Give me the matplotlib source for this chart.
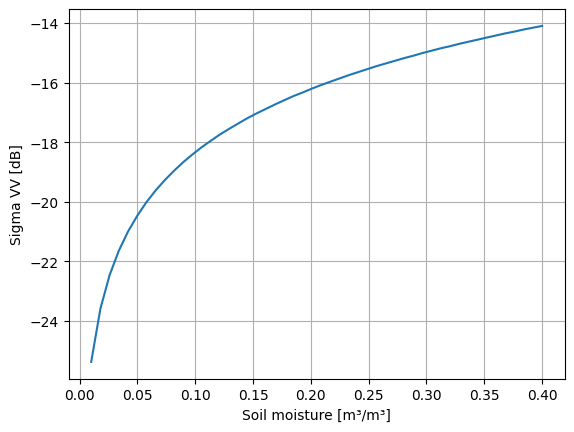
import matplotlib
matplotlib.use('Agg')
from matplotlib import pyplot as plt

# Soil moisture [m3/m3], 50 samples from 0.01 to 0.40
soil_moisture = [
    0.0100, 0.0180, 0.0259, 0.0339, 0.0418, 0.0498, 0.0578, 0.0657, 0.0737, 0.0816,
    0.0896, 0.0976, 0.1055, 0.1135, 0.1214, 0.1294, 0.1373, 0.1453, 0.1533, 0.1612,
    0.1692, 0.1771, 0.1851, 0.1931, 0.2010, 0.2090, 0.2169, 0.2249, 0.2329, 0.2408,
    0.2488, 0.2567, 0.2647, 0.2727, 0.2806, 0.2886, 0.2965, 0.3045, 0.3124, 0.3204,
    0.3284, 0.3363, 0.3443, 0.3522, 0.3602, 0.3682, 0.3761, 0.3841, 0.3920, 0.4000,
]
# Sigma VV [dB]
sigma_vv = [
    -25.37, -23.58, -22.46, -21.64, -21.00, -20.47, -20.01, -19.62, -19.27, -18.96,
    -18.67, -18.41, -18.17, -17.95, -17.74, -17.55, -17.37, -17.19, -17.03, -16.88,
    -16.73, -16.59, -16.45, -16.33, -16.20, -16.08, -15.97, -15.86, -15.75, -15.65,
    -15.55, -15.45, -15.36, -15.27, -15.18, -15.10, -15.01, -14.93, -14.85, -14.78,
    -14.70, -14.63, -14.56, -14.49, -14.42, -14.35, -14.29, -14.22, -14.16, -14.10,
]

fig, ax = plt.subplots(figsize=(6.4, 4.8), dpi=100)
ax.plot(soil_moisture, sigma_vv)
ax.set_xlabel('Soil moisture [m³/m³]')
ax.set_ylabel('Sigma VV [dB]')
ax.grid(True)

fig.savefig('out.png', dpi=100, bbox_inches='tight')
